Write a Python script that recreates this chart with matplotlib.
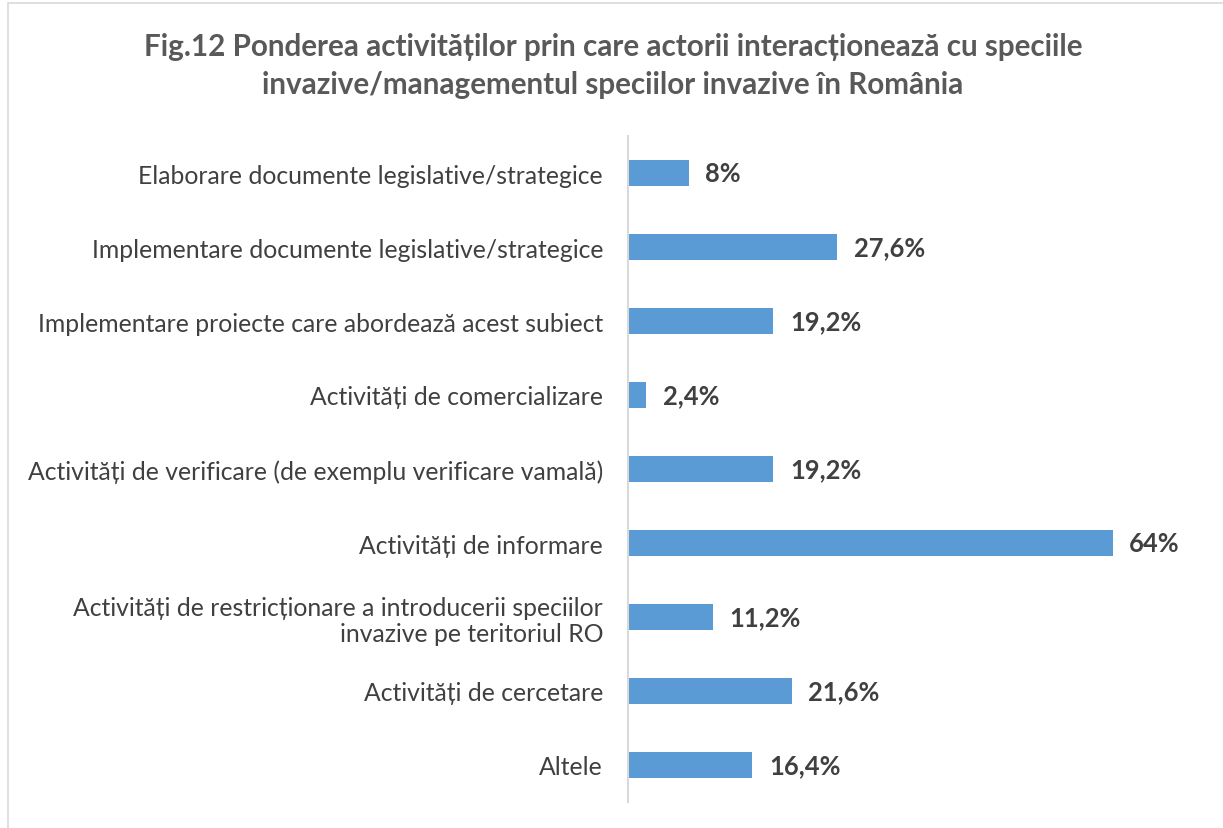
import matplotlib.pyplot as plt
from matplotlib.patches import Rectangle

categories = [
    "Elaborare documente legislative/strategice",
    "Implementare documente legislative/strategice",
    "Implementare proiecte care abordează acest subiect",
    "Activități de comercializare",
    "Activități de verificare (de exemplu verificare vamală)",
    "Activități de informare",
    "Activități de restricționare a introducerii speciilor\ninvazive pe teritoriul RO",
    "Activități de cercetare",
    "Altele",
]
values = [8, 27.6, 19.2, 2.4, 19.2, 64, 11.2, 21.6, 16.4]
value_labels = ["8%", "27,6%", "19,2%", "2,4%", "19,2%", "64%", "11,2%", "21,6%", "16,4%"]
title_lines = ["Fig.12 Ponderea activităților prin care actorii interacționează cu speciile",
               "invazive/managementul speciilor invazive în România"]

plt.rcParams['font.family'] = ['Lato', 'DejaVu Sans']

W, H = 1223, 829
fig = plt.figure(figsize=(W / 100, H / 100), dpi=100)
fig.patch.set_facecolor('white')

# chart border
fig.add_artist(Rectangle((8 / W, -0.01), 1.1, 1 - 4 / H + 0.01, transform=fig.transFigure,
                         fill=False, edgecolor='#D9D9D9', linewidth=1.2))

left, right, top, bottom = 628, 1158, 137, 803
ax = fig.add_axes([left / W, 1 - bottom / H, (right - left) / W, (bottom - top) / H])

y = list(range(len(categories)))
ax.barh(y, values, height=0.35, color='#5B9BD5')
ax.set_ylim(len(categories) - 0.5, -0.5)
ax.set_xlim(0, 70)
ax.set_yticks(y)
ax.set_yticklabels(categories, fontsize=17.8, color='#404040', linespacing=1.15)
ax.tick_params(axis='y', length=0, pad=18)
ax.set_xticks([])
for s in ['top', 'right', 'bottom']:
    ax.spines[s].set_visible(False)
ax.spines['left'].set_color('#D9D9D9')
ax.spines['left'].set_linewidth(1.5)

for yi, v, lab in zip(y, values, value_labels):
    ax.annotate(lab, (v, yi), xytext=(12, 0), textcoords='offset points',
                va='center', ha='left', fontsize=18.4, fontweight='bold', color='#404040')

for ty, line in zip([47, 85], title_lines):
    fig.text(613 / W, 1 - ty / H, line, ha='center', va='center', fontsize=21.3,
             fontweight='bold', color='#595959')

fig.savefig('out.png', dpi=100)
